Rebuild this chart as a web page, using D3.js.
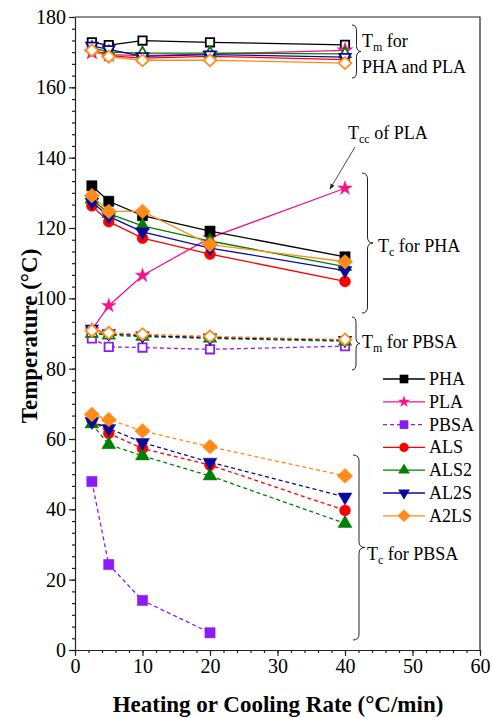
<!DOCTYPE html>
<html>
<head>
<meta charset="utf-8">
<script src="https://cdn.jsdelivr.net/npm/d3@7"></script>
<style>
	body { margin: 0; background: #fff; }
	svg text { font-family: "Liberation Serif", "Times New Roman", serif; }
</style>
</head>
<body>
<div id="chart"></div>
<script>
// 数据
var rates = [2.5, 5, 10, 20, 40];
var names = ["PHA", "PLA", "PBSA", "ALS", "ALS2", "AL2S", "A2LS"];
var colors = ["#000000", "#f5128a", "#8a1cf5", "#ff0000", "#008000", "#0a0a9a", "#ff8c1a"];
var xTicks = [0, 10, 20, 30, 40, 50, 60];
var yTicks = [0, 20, 40, 60, 80, 100, 120, 140, 160, 180];

// Tm for PHA and PLA
var PHA_Tm = [172.8, 172.0, 173.3, 172.8, 172.1];
var PLA_Tm = [170.0, 169.3, 169.0, 169.5, 170.5];
var ALS_Tm = [170.8, 169.0, 168.3, 168.8, 167.9];
var ALS2_Tm = [171.3, 170.0, 169.7, 169.7, 169.5];
var AL2S_Tm = [171.8, 170.8, 168.8, 169.3, 168.6];
var A2LS_Tm = [170.5, 168.7, 167.7, 167.7, 166.9];

// Tc for PHA, Tcc of PLA
var PHA_Tc = [132.0, 127.6, 123.5, 119.1, 111.8];
var PLA_Tcc = [91.0, 97.9, 106.5, 117.2, 131.3];
var ALS_Tc = [126.3, 121.8, 117.1, 112.6, 104.8];
var ALS2_Tc = [128.2, 124.1, 120.6, 116.3, 109.0];
var AL2S_Tc = [127.4, 123.3, 118.9, 114.3, 107.9];
var A2LS_Tc = [129.2, 124.7, 124.7, 115.3, 110.4];

// Tm for PBSA
var PBSA_Tm = [88.6, 86.2, 86.0, 85.5, 86.4];
var ALS_TmB = [90.3, 89.8, 89.4, 88.9, 88.0];
var ALS2_TmB = [90.0, 89.5, 89.1, 88.6, 87.8];
var AL2S_TmB = [91.3, 90.0, 89.4, 88.8, 88.1];
var A2LS_TmB = [90.8, 90.2, 89.8, 89.2, 88.3];

// Tc for PBSA
var PBSA_Tc = [47.9, 24.3, 14.1, 4.9, null];
var ALS_TcB = [65.5, 61.6, 57.3, 52.6, 39.7];
var ALS2_TcB = [64.3, 58.4, 55.2, 49.5, 36.0];
var AL2S_TcB = [65.0, 63.0, 59.0, 53.4, 43.5];
var A2LS_TcB = [67.0, 65.5, 62.3, 57.8, 49.5];

// 每条线段: 样品, 数值, 空心/实心, 虚线
var segments = [
	["PHA", PHA_Tm, true, false], ["PLA", PLA_Tm, true, false], ["ALS", ALS_Tm, true, false],
	["ALS2", ALS2_Tm, true, false], ["AL2S", AL2S_Tm, true, false], ["A2LS", A2LS_Tm, true, false],
	["PLA", PLA_Tcc, false, false],
	["PHA", PHA_Tc, false, false], ["ALS", ALS_Tc, false, false], ["ALS2", ALS2_Tc, false, false],
	["AL2S", AL2S_Tc, false, false], ["A2LS", A2LS_Tc, false, false],
	["PBSA", PBSA_Tm, true, true], ["ALS", ALS_TmB, true, true], ["ALS2", ALS2_TmB, true, true],
	["AL2S", AL2S_TmB, true, true], ["A2LS", A2LS_TmB, true, true],
	["PBSA", PBSA_Tc, false, true], ["ALS", ALS_TcB, false, true], ["ALS2", ALS2_TcB, false, true],
	["AL2S", AL2S_TcB, false, true], ["A2LS", A2LS_TcB, false, true]
];

drawchart()

function drawchart() {
	var W = 492, H = 718;
	var svg = d3.select("#chart").append("svg")
		.attr("width", W)
		.attr("height", H);

	var x = d3.scaleLinear().domain([0, 60]).range([75, 480]);
	var y = d3.scaleLinear().domain([0, 180]).range([650, 17]);
	var color = d3.scaleOrdinal().domain(names).range(colors);

	// 坐标轴
	svg.append("g").attr("transform", `translate(0,${y(0)})`)
		.call(d3.axisBottom(x).tickValues(xTicks).tickSize(6).tickPadding(3).tickSizeOuter(0));
	svg.append("g").attr("transform", `translate(0,${y(0)})`)
		.call(d3.axisBottom(x).tickValues(d3.range(0, 61, 2)).tickSize(3).tickFormat("").tickSizeOuter(0))
		.select(".domain").remove();
	svg.append("g").attr("transform", `translate(${x(0)},0)`)
		.call(d3.axisLeft(y).tickValues(yTicks).tickSize(6).tickPadding(3).tickSizeOuter(0));
	svg.append("g").attr("transform", `translate(${x(0)},0)`)
		.call(d3.axisLeft(y).tickValues(d3.range(0, 181, 20 / 6)).tickSize(3).tickFormat("").tickSizeOuter(0))
		.select(".domain").remove();
	svg.selectAll(".tick text").style("font-size", "20px");
	svg.selectAll(".domain, .tick line").attr("stroke", "#222").attr("stroke-width", 1.2);

	// 边框
	svg.append("path")
		.attr("d", `M${x(0)},${y(180)} L${x(60)},${y(180)} L${x(60)},${y(0)}`)
		.attr("fill", "none").attr("stroke", "#222").attr("stroke-width", 1.2);

	// 标记
	function symbolPath(name, size) {
		if (name == "PHA" || name == "PBSA") return d3.symbol(d3.symbolSquare, size)();
		if (name == "PLA") return d3.symbol(d3.symbolStar, size * 0.6)();
		if (name == "ALS") return d3.symbol(d3.symbolCircle, size * 0.9)();
		if (name == "ALS2" || name == "AL2S") return d3.symbol(d3.symbolTriangle, size * 0.8)();
		var r = Math.sqrt(size) * 0.72;
		return `M0,${-r} L${r * 1.05},0 L0,${r} L${-r * 1.05},0 Z`;
	}

	var line = d3.line()
		.x(d => x(d[0]))
		.y(d => y(d[1]));

	var plot = svg.append("g");
	segments.forEach(function(s) {
		var name = s[0], c = color(name);
		var pts = rates.map((r, i) => [r, s[1][i]]).filter(d => d[1] != null);
		plot.append("path")
			.datum(pts)
			.attr("d", line)
			.attr("fill", "none")
			.attr("stroke", c)
			.attr("stroke-width", 1.3)
			.attr("stroke-dasharray", s[3] ? "4,3" : null);
		plot.selectAll(null)
			.data(pts)
			.join("path")
			.attr("d", symbolPath(name, s[2] ? 70 : 105))
			.attr("transform", d => `translate(${x(d[0])},${y(d[1])})` + (name == "AL2S" ? " rotate(180)" : ""))
			.attr("fill", s[2] ? "#fff" : c)
			.attr("stroke", c)
			.attr("stroke-width", s[2] ? 1.8 : 0.5);
	});

	// 图例
	var legend = svg.append("g").attr("transform", `translate(383,379)`);
	names.forEach(function(n, i) {
		var g = legend.append("g").attr("transform", `translate(0,${i * 22.8})`);
		g.append("line")
			.attr("x1", 0).attr("x2", 42)
			.attr("stroke", color(n)).attr("stroke-width", 1.3)
			.attr("stroke-dasharray", n == "PBSA" ? "4,3" : null);
		g.append("path")
			.attr("d", symbolPath(n, 75))
			.attr("transform", "translate(21,0)" + (n == "AL2S" ? " rotate(180)" : ""))
			.attr("fill", color(n));
		g.append("text")
			.attr("x", 46).attr("y", 6)
			.style("font-size", "18px")
			.text(n);
	});

	// 大括号
	function brace(bx, y0, y1, w) {
		var ym = (y0 + y1) / 2, h = w / 2, c = Math.min(6, (y1 - y0) / 6);
		return `M${bx},${y0} Q${bx + h},${y0} ${bx + h},${y0 + c} L${bx + h},${ym - c} Q${bx + h},${ym} ${bx + w},${ym}` +
			` Q${bx + h},${ym} ${bx + h},${ym + c} L${bx + h},${y1 - c} Q${bx + h},${y1} ${bx},${y1}`;
	}
	[[352, 25, 78, 9], [362, 173, 313, 11], [352, 317, 370, 8], [353, 455, 640, 12]].forEach(function(b) {
		svg.append("path")
			.attr("d", brace(b[0], b[1], b[2], b[3]))
			.attr("fill", "none").attr("stroke", "#222").attr("stroke-width", 1);
	});

	// 注释文字
	function label(tx, ty, main, sub, rest) {
		var t = svg.append("text").attr("x", tx).attr("y", ty).style("font-size", "18px");
		t.append("tspan").text(main);
		t.append("tspan").attr("dy", 4).style("font-size", "12px").text(sub);
		t.append("tspan").attr("dy", -4).text(rest);
		return t;
	}
	label(362, 47, "T", "m", " for");
	svg.append("text").attr("x", 362).attr("y", 73).style("font-size", "18px").text("PHA and PLA");
	label(348, 139, "T", "cc", " of PLA");
	label(378, 252, "T", "c", " for PHA");
	label(362, 348, "T", "m", " for PBSA");
	label(367, 560, "T", "c", " for PBSA");

	// 箭头
	svg.append("defs").append("marker")
		.attr("id", "arrow")
		.attr("viewBox", "0 0 10 10").attr("refX", 9).attr("refY", 5)
		.attr("markerWidth", 7).attr("markerHeight", 7)
		.attr("orient", "auto")
		.append("path").attr("d", "M0,1 L10,5 L0,9 Z").attr("fill", "#222");
	svg.append("line")
		.attr("x1", 355).attr("y1", 147)
		.attr("x2", 330).attr("y2", 189)
		.attr("stroke", "#222").attr("stroke-width", 0.8)
		.attr("marker-end", "url(#arrow)");

	// 坐标轴标题
	svg.append("text")
		.attr("transform", `translate(37,336) rotate(-90)`)
		.attr("text-anchor", "middle")
		.style("font-size", "23px").style("font-weight", "bold")
		.text("Temperature (\u00B0C)");
	svg.append("text")
		.attr("x", 278).attr("y", 712)
		.attr("text-anchor", "middle")
		.style("font-size", "23px").style("font-weight", "bold")
		.text("Heating or Cooling Rate (\u00B0C/min)");
}
</script>
</body>
</html>
